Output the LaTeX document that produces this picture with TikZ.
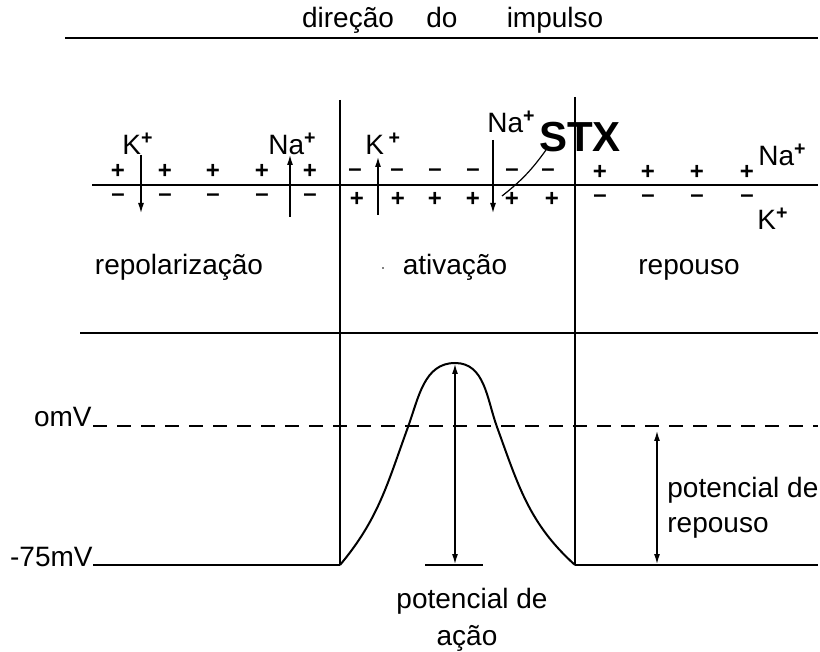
\documentclass[tikz,border=0pt]{standalone}
\usepackage{fontspec}
\setmainfont{Liberation Sans}
\usetikzlibrary{arrows.meta}
\begin{document}
\begin{tikzpicture}[x=0.5pt,y=-0.5pt,
  lbl/.style={font=\fontsize{14}{16}\selectfont, inner sep=0pt},
  chg/.style={font=\bfseries\fontsize{12}{13}\selectfont, inner sep=0pt},
  mainline/.style={line width=1pt},
  ionarrow/.style={line width=0.6pt, -{Latex[length=5pt,width=3pt]}},
  dblarrow/.style={line width=0.6pt, {Latex[length=5pt,width=3pt]}-{Latex[length=5pt,width=3pt]}},
  dashline/.style={line width=0.6pt, dash pattern=on 7pt off 5pt},
]
\useasboundingbox (0,0) rectangle (820,652);

% title
\coordinate (t1) at (65,38); \coordinate (t2) at (818,38);
\draw[mainline] (t1) -- (t2);
\node[lbl, anchor=base] (tdir) at (348,28) {direção};
\node[lbl, anchor=base] (tdo) at (442,28) {do};
\node[lbl, anchor=base] (timp) at (555,28) {impulso};

% vertical lines
\coordinate (v1t) at (340,100); \coordinate (v1b) at (340,565);
\coordinate (v2t) at (575,97);  \coordinate (v2b) at (575,565);
\draw[mainline] (v1t) -- (v1b);
\draw[mainline] (v2t) -- (v2b);

% membrane
\coordinate (m1) at (92,185); \coordinate (m2) at (818,185);
\draw[mainline] (m1) -- (m2);

% separator
\coordinate (s1) at (80,333); \coordinate (s2) at (818,333);
\draw[mainline] (s1) -- (s2);

% charges, left section
\foreach \x [count=\i] in {118,165,213,262,310} {
  \node[chg] (lp\i) at (\x,171) {+};
  \node[chg] (lm\i) at (\x,198) {–};
}
% middle section
\foreach \x [count=\i] in {355,397,435,473,512,548} {
  \node[chg] (mm\i) at (\x,173) {–};
}
\foreach \x [count=\i] in {357,398,435,473,512,552} {
  \node[chg] (mp\i) at (\x,199) {+};
}
% right section
\foreach \x [count=\i] in {600,648,697,747} {
  \node[chg] (rp\i) at (\x,172) {+};
  \node[chg] (rm\i) at (\x,199) {–};
}

% ion labels
\node[lbl, anchor=base west] (kl) at (122,155) {K\textsuperscript{\bfseries +}};
\node[lbl, anchor=base west] (nal) at (268,155) {Na\textsuperscript{\bfseries +}};
\node[lbl, anchor=base west] (km) at (365,155) {K\,\textsuperscript{\bfseries +}};
\node[lbl, anchor=base west] (nam) at (487,133) {Na\textsuperscript{\bfseries +}};
\node[lbl, anchor=base west] (nar) at (758,166) {Na\textsuperscript{\bfseries +}};
\node[lbl, anchor=base west] (kr) at (757,230) {K\textsuperscript{\bfseries +}};

% ion arrows
\coordinate (kla) at (141,155); \coordinate (klb) at (141,213);
\draw[ionarrow] (kla) -- (klb);
\coordinate (nala) at (290,217); \coordinate (nalb) at (290,155);
\draw[ionarrow] (nala) -- (nalb);
\coordinate (kma) at (378,215); \coordinate (kmb) at (378,157);
\draw[ionarrow] (kma) -- (kmb);
\coordinate (nama) at (493,140); \coordinate (namb) at (493,213);
\draw[ionarrow] (nama) -- (namb);

% STX
\node[font=\bfseries\fontsize{21}{24}\selectfont, inner sep=0pt] (stx) at (580,137) {STX};
\coordinate (stxa) at (502,196); \coordinate (stxb) at (546,150);
\draw[line width=0.6pt] (stxa) to[bend right=8] (stxb);

% region labels
\node[lbl, anchor=base] (repol) at (179,275) {repolarização};
\node[lbl, anchor=base] (ativ) at (455,275) {ativação};
\fill (383,268) circle (0.8);
\node[lbl, anchor=base] (repou) at (689,275) {repouso};

% voltage levels
\node[lbl, anchor=base east] (omv) at (92,427) {omV};
\node[lbl, anchor=base east] (m75) at (93,566) {-75mV};
\coordinate (d1) at (93,426); \coordinate (d2) at (818,426);
\draw[dashline] (d1) -- (d2);

\coordinate (b1) at (93,565); \coordinate (b3) at (818,565);
\draw[mainline] (b1) -- (v1b);
\draw[mainline] (v2b) -- (b3);

% action potential curve
\coordinate (cl) at (408,427); \coordinate (pk0) at (455,363); \coordinate (cr) at (497,427);
\draw[mainline] (v1b) to[out=50,in=250] (cl) to[out=70,in=180] (pk0)
  to[out=0,in=110] (cr) to[out=290,in=138] (v2b);

% amplitude arrows
\coordinate (pk) at (455,364); \coordinate (pb) at (455,564);
\draw[dblarrow] (pk) -- (pb);
\coordinate (sh1) at (425,565); \coordinate (sh2) at (483,565);
\draw[mainline] (sh1) -- (sh2);
\node[lbl, anchor=base] (pa1) at (472,608) {potencial de};
\node[lbl, anchor=base] (pa2) at (467,645) {ação};

\coordinate (ra) at (657,431); \coordinate (rb) at (657,564);
\draw[dblarrow] (ra) -- (rb);
\node[lbl, anchor=base west] (pr1) at (667,497) {potencial de};
\node[lbl, anchor=base west] (pr2) at (667,532) {repouso};
\end{tikzpicture}
\end{document}
